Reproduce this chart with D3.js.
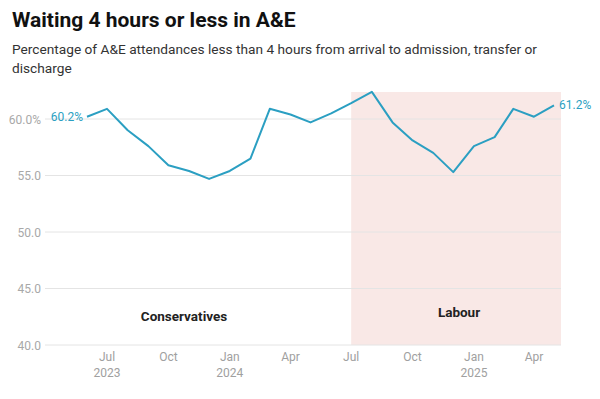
<!DOCTYPE html>
<html>
<head>
<meta charset="utf-8">
<script src="https://cdn.jsdelivr.net/npm/d3@7"></script>
<style>
  body { margin: 0; background: #fff; font-family: Roboto, "Noto Sans", sans-serif; }
</style>
</head>
<body>
<script>
// monthly values, Jun 2023 - May 2025
const months = ["2023-06","2023-07","2023-08","2023-09","2023-10","2023-11","2023-12",
  "2024-01","2024-02","2024-03","2024-04","2024-05","2024-06","2024-07","2024-08","2024-09",
  "2024-10","2024-11","2024-12","2025-01","2025-02","2025-03","2025-04","2025-05"]
const pct = [60.2, 60.9, 59.0, 57.6, 55.9, 55.4, 54.7, 55.4, 56.5, 60.9, 60.4, 59.7,
  60.5, 61.4, 62.4, 59.7, 58.1, 57.0, 55.3, 57.6, 58.4, 60.9, 60.2, 61.2]
const yTicks = [40, 45, 50, 55, 60]
const xTicks = ["2023-07","2023-10","2024-01","2024-04","2024-07","2024-10","2025-01","2025-04"]
const periods = [
  {name: "Conservatives", start: "2023-04"},
  {name: "Labour", start: "2024-07"}
]

const parse = d3.timeParse("%Y-%m")
const data = months.map((m, i) => ({date: parse(m), value: pct[i]}))

const width = 600, height = 399
const svg = d3.select('body').append('svg')
  .attr('width', width)
  .attr('height', height)

// title + subtitle
svg.append('text').attr('x', 12).attr('y', 27)
  .attr('font-size', 21).attr('font-weight', 700).attr('fill', '#111')
  .text('Waiting 4 hours or less in A&E')
svg.append('text').attr('x', 12).attr('y', 54)
  .attr('font-size', 13.7).attr('fill', '#333')
  .text('Percentage of A&E attendances less than 4 hours from arrival to admission, transfer or')
svg.append('text').attr('x', 12).attr('y', 73)
  .attr('font-size', 13.7).attr('fill', '#333')
  .text('discharge')

const plotLeft = 45, plotRight = 561

const x = d3.scaleTime()
  .domain([parse("2023-06"), parse("2025-05")])
  .range([87, 554])

const y = d3.scaleLinear()
  .domain([40, 60])
  .range([345, 119])

// labour shading
svg.append('rect')
  .attr('x', x(parse(periods[1].start)))
  .attr('y', 92)
  .attr('width', plotRight - x(parse(periods[1].start)))
  .attr('height', y(40) - 92)
  .attr('fill', '#f9e8e6')

// grid
const grid = svg.append('g')
grid.selectAll('line')
  .data(yTicks)
  .enter()
  .append('line')
  .attr('x1', plotLeft).attr('x2', plotRight)
  .attr('y1', d => y(d)).attr('y2', d => y(d))
  .attr('stroke', '#e4e4e4').attr('stroke-width', 1)

grid.selectAll('text')
  .data(yTicks)
  .enter()
  .append('text')
  .attr('x', 41).attr('y', d => y(d) + 4.5)
  .attr('text-anchor', 'end')
  .attr('font-size', 12).attr('fill', '#a8a8a8')
  .text(d => d === 60 ? d.toFixed(1) + '%' : d.toFixed(1))

// x axis labels
const xg = svg.append('g')
xg.selectAll('text.m')
  .data(xTicks)
  .enter()
  .append('text')
  .attr('class', 'm')
  .attr('x', d => x(parse(d)))
  .attr('y', 361)
  .attr('text-anchor', 'middle')
  .attr('font-size', 12).attr('fill', '#a0a0a0')
  .text(d => d3.timeFormat("%b")(parse(d)))
xg.selectAll('text.yr')
  .data(xTicks.filter(d => d === "2023-07" || d.endsWith("-01")))
  .enter()
  .append('text')
  .attr('class', 'yr')
  .attr('x', d => x(parse(d)))
  .attr('y', 377)
  .attr('text-anchor', 'middle')
  .attr('font-size', 12).attr('fill', '#a0a0a0')
  .text(d => d3.timeFormat("%Y")(parse(d)))

// period labels
svg.append('text').attr('x', 184).attr('y', 321)
  .attr('text-anchor', 'middle').attr('font-size', 13.5).attr('font-weight', 700).attr('fill', '#222')
  .text(periods[0].name)
svg.append('text').attr('x', 459).attr('y', 317)
  .attr('text-anchor', 'middle').attr('font-size', 13.5).attr('font-weight', 700).attr('fill', '#222')
  .text(periods[1].name)

// line
const line = d3.line()
  .x(d => x(d.date))
  .y(d => y(d.value))

svg.append('path')
  .datum(data)
  .attr('d', line)
  .attr('fill', 'none')
  .attr('stroke', '#2b9fc2')
  .attr('stroke-width', 2)
  .attr('stroke-linejoin', 'round')

const first = data[0], last = data[data.length - 1]
svg.append('text').attr('x', x(first.date) - 4).attr('y', y(first.value) + 4)
  .attr('text-anchor', 'end').attr('font-size', 12).attr('fill', '#2b9fc2')
  .text(first.value.toFixed(1) + '%')
svg.append('text').attr('x', x(last.date) + 5).attr('y', y(last.value) + 4)
  .attr('text-anchor', 'start').attr('font-size', 12).attr('fill', '#2b9fc2')
  .text(last.value.toFixed(1) + '%')
</script>
</body>
</html>
